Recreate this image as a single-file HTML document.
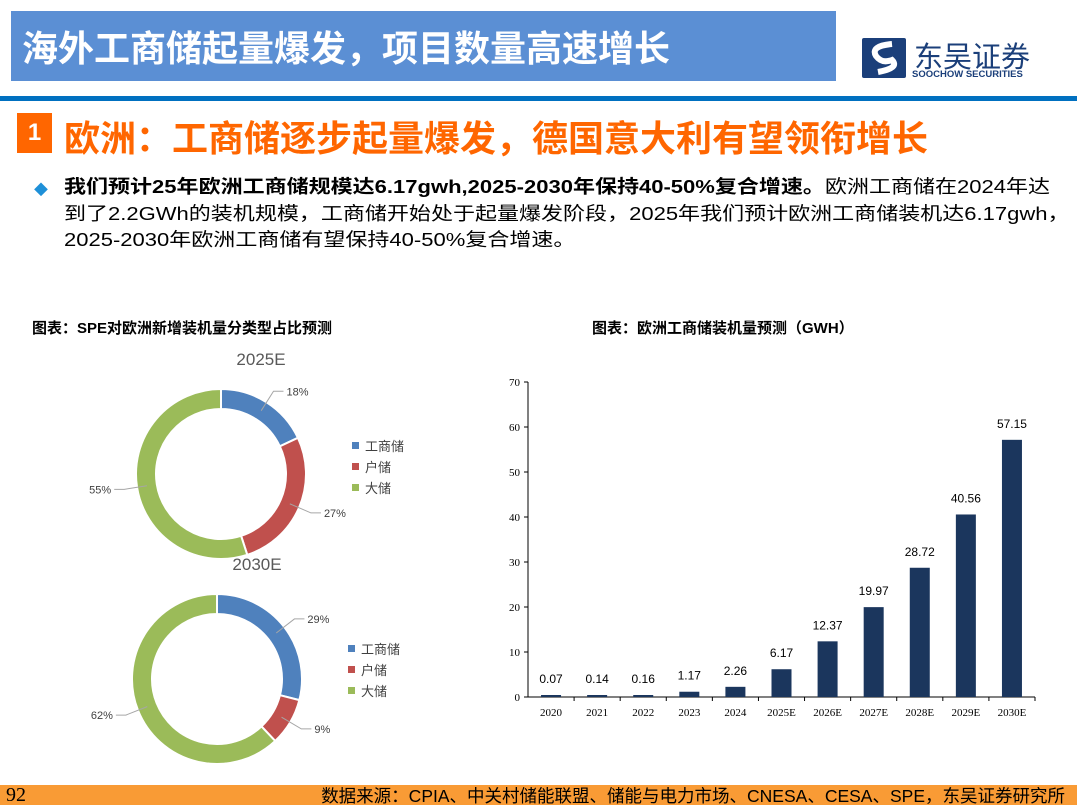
<!DOCTYPE html>
<html><head><meta charset="utf-8"><style>
body{margin:0;width:1077px;height:805px;position:relative;overflow:hidden;background:#fff;font-family:"Liberation Sans","Noto Sans CJK SC",sans-serif}
.a{position:absolute}
</style></head><body>
<div class="a" style="left:11px;top:11px;width:825px;height:70px;background:#5B8FD4"></div>
<div class="a" style="left:22px;top:20px;font-size:36px;font-weight:bold;color:#fff;white-space:nowrap">海外工商储起量爆发，项目数量高速增长</div>
<div class="a" style="left:862px;top:38px;width:44px;height:40px;background:#1B3F7A;border-radius:2px"><svg width="44" height="40"><path d="M30 6 Q8 8 14 18 Q20 26 30 22 Q38 30 16 34" stroke="#fff" stroke-width="6" fill="none"/></svg></div>
<div class="a" style="left:914px;top:34px;font-size:29px;color:#1B3F7A;white-space:nowrap">东吴证券</div>
<div class="a" style="left:912px;top:69px;font-size:9.5px;font-weight:bold;color:#1B3F7A;white-space:nowrap">SOOCHOW SECURITIES</div>
<div class="a" style="left:0;top:96px;width:1077px;height:5px;background:#0070C0"></div>
<div class="a" style="left:17px;top:113px;width:35px;height:40px;background:#FF6600;color:#fff;font-size:24px;font-weight:bold;text-align:center;line-height:40px">1</div>
<div class="a" style="left:64px;top:110px;font-size:36px;font-weight:bold;color:#FF6600;white-space:nowrap">欧洲：工商储逐步起量爆发，德国意大利有望领衔增长</div>
<div class="a" style="left:34px;top:180px;font-size:14px;color:#1E90D8">◆</div>
<div class="a" style="left:64px;top:174px;font-size:18.5px;line-height:26.5px;color:#000;white-space:nowrap;transform:scaleX(1.19);transform-origin:0 0"><b>我们预计25年欧洲工商储规模达6.17gwh,2025-2030年保持40-50%复合增速。</b>欧洲工商储在2024年达<br>到了2.2GWh的装机规模，工商储开始处于起量爆发阶段，2025年我们预计欧洲工商储装机达6.17gwh，<br>2025-2030年欧洲工商储有望保持40-50%复合增速。</div>
<div class="a" style="left:32px;top:317px;font-size:15px;font-weight:bold">图表：SPE对欧洲新增装机量分类型占比预测</div>
<div class="a" style="left:592px;top:317px;font-size:15px;font-weight:bold">图表：欧洲工商储装机量预测（GWH）</div>
<svg class="a" style="left:0;top:0" width="1077" height="805" id="svg"></svg>
<div class="a" style="left:0;top:785px;width:1077px;height:20px;background:#F99B35"></div>
<div class="a" style="left:6px;top:784px;font-size:20px;font-family:'Liberation Serif',serif">92</div>
<div class="a" style="right:12px;top:783px;font-size:17.5px;white-space:nowrap">数据来源：CPIA、中关村储能联盟、储能与电力市场、CNESA、CESA、SPE，东吴证券研究所</div>
<script>
const categories=["2020","2021","2022","2023","2024","2025E","2026E","2027E","2028E","2029E","2030E"];
const values=[0.07,0.14,0.16,1.17,2.26,6.17,12.37,19.97,28.72,40.56,57.15];
const yTicks=[0,10,20,30,40,50,60,70];
const pieLabels=["工商储","户储","大储"];
const pie2025=[18,27,55];
const pie2030=[29,9,62];
const pieColors=["#4F81BD","#C0504D","#9BBB59"];
const NS="http://www.w3.org/2000/svg";
const svg=document.getElementById('svg');
function mk(t,a,txt){const e=document.createElementNS(NS,t);for(const k in a)e.setAttribute(k,a[k]);if(txt!=null)e.textContent=txt;svg.appendChild(e);return e;}
const x0=528,x1=1035,yb=697,yt=382,ymax=70;
const y=v=>yb-(v/ymax)*(yb-yt);
const step=(x1-x0)/categories.length;
const xc=i=>x0+step*(i+0.5);
let e=mk('line',{x1:x0,y1:yt,x2:x0,y2:yb,stroke:'#000'});

e=mk('line',{x1:x0,y1:yb,x2:x1,y2:yb,stroke:'#000'});

yTicks.forEach(t=>{
 mk('line',{x1:x0-4,y1:y(t),x2:x0,y2:y(t),stroke:'#000'});
 e=mk('text',{x:x0-8,y:y(t)+4,'text-anchor':'end','font-size':11,'font-family':'Liberation Serif'},t);
 
});
categories.forEach((c,i)=>{
 mk('line',{x1:x0+step*(i+1),y1:yb,x2:x0+step*(i+1),y2:yb+4,stroke:'#000'});
 const h=Math.max(yb-y(values[i]),2);
 e=mk('rect',{x:xc(i)-10,y:yb-h,width:20,height:h,fill:'#1B365D'});
 
 e=mk('text',{x:xc(i),y:yb-h-12,'text-anchor':'middle','font-size':12},values[i].toFixed(2));
 
 e=mk('text',{x:xc(i),y:yb+19,'text-anchor':'middle','font-size':11,'font-family':'Liberation Serif'},c);
 
});
function donut(cx,cy,data,title,ty,lx,ly){
 const R=85,r=65;let a=0;const tot=data.reduce((s,v)=>s+v,0);
 e=mk('text',{x:cx+40,y:ty,'text-anchor':'middle','font-size':17,fill:'#595959'},title);
 
 data.forEach((v,i)=>{
  const a0=a,a1=a+v/tot*2*Math.PI;a=a1;
  const p=(t,rr)=>[cx+rr*Math.sin(t),cy-rr*Math.cos(t)];
  const [ax,ay]=p(a0,R),[bx,by]=p(a1,R),[cx2,cy2]=p(a1,r),[dx,dy]=p(a0,r);
  const lg=(a1-a0)>Math.PI?1:0;
  e=mk('path',{d:`M${ax},${ay}A${R},${R} 0 ${lg} 1 ${bx},${by}L${cx2},${cy2}A${r},${r} 0 ${lg} 0 ${dx},${dy}Z`,fill:pieColors[i],stroke:'#fff','stroke-width':2});
  
  const m=(a0+a1)/2;const [mx,my]=p(m,75);const [ox,oy]=p(m,98);
  const right=Math.sin(m)>=0;
  mk('polyline',{points:`${mx},${my} ${ox},${oy} ${ox+(right?10:-10)},${oy}`,fill:'none',stroke:'#A6A6A6'});
  e=mk('text',{x:ox+(right?13:-13),y:oy+4,'text-anchor':right?'start':'end','font-size':11,fill:'#404040'},v+'%');
  
  e=mk('rect',{x:lx,y:ly+i*21-4,width:7,height:7,fill:pieColors[i]});
  
  e=mk('text',{x:lx+13,y:ly+i*21+5,'font-size':13,fill:'#404040'},pieLabels[i]);
  
 });
}
donut(221,474,pie2025,'2025E',365,352,446);
donut(217,679,pie2030,'2030E',570,348,649);
</script>
</body></html>
